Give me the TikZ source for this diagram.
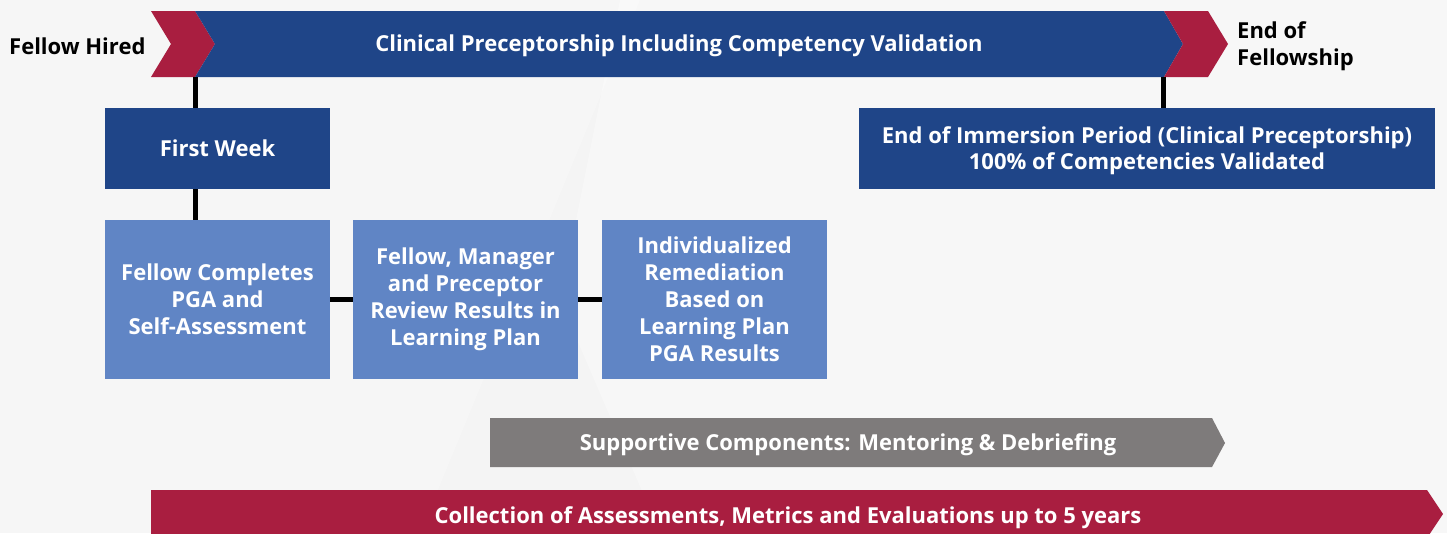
\documentclass[tikz,border=0pt]{standalone}
\usepackage{fontspec}
\setmainfont{Open Sans}
\definecolor{navy}{HTML}{1F4588}
\definecolor{crimson}{HTML}{A91E40}
\definecolor{lblue}{HTML}{6085C5}
\definecolor{gbar}{HTML}{7E7B7B}
\definecolor{bgc}{HTML}{F4F4F4}
\begin{document}
\begin{tikzpicture}[x=1pt,y=-1pt,
  lbl/.style={font=\fontsize{22}{27}\selectfont\bfseries, text=white, align=center, inner sep=0pt},
  blk/.style={font=\fontsize{22}{27}\selectfont\bfseries, text=black, align=left, inner sep=0pt},
  darkbox/.style={lbl, fill=navy, minimum height=81pt},
  lightbox/.style={lbl, fill=lblue, minimum width=225pt, minimum height=159pt},
  conn/.style={line width=5pt, draw=black}]
\fill[bgc] (0,0) rectangle (1447,533);
\fill[white, opacity=0.3] (620,0) -- (1447,0) -- (1447,533) -- (660,533) -- (560,300) -- cycle;
\fill[white, opacity=0.25] (0,0) -- (640,0) -- (420,533) -- (0,533) -- cycle;
\useasboundingbox (0,0) rectangle (1447,533);
% top bar
\fill[crimson] (151,11)--(195,11)--(215,44)--(195,77)--(151,77)--(171,44)--cycle;
\fill[navy] (195,11)--(1164,11)--(1183,44)--(1164,77)--(195,77)--(215,44)--cycle;
\fill[crimson] (1164,11)--(1208,11)--(1228,44)--(1208,77)--(1164,77)--(1183,44)--cycle;
\node[lbl] (clin) at (679,46) {Clinical Preceptorship Including Competency Validation};
\node[blk, anchor=west] (hired) at (9,46) {Fellow Hired};
\node[blk, anchor=west] (endf) at (1237,46) {End of\\Fellowship};
\coordinate (barL) at (195,77);
\coordinate (barR) at (1163,77);
% boxes
\node[darkbox, minimum width=225pt] (fw) at (217.5,148.5) {First Week};
\node[darkbox, minimum width=576pt] (eoi) at (1147,148.5) {};
\node[lbl, font=\fontsize{22}{26}\selectfont\bfseries] (eoitext) at (1147,150.5) {End of Immersion Period (Clinical Preceptorship)\\100\% of Competencies Validated};
\node[lightbox] (pga) at (217.5,299.5) {Fellow Completes\\PGA and\\Self-Assessment};
\node[lightbox] (rev) at (465.5,299.5) {Fellow, Manager\\and Preceptor\\Review Results in\\Learning Plan};
\node[lightbox] (rem) at (714.5,299.5) {Individualized\\Remediation\\Based on\\Learning Plan\\PGA Results};
% connectors
\draw[conn] (barL) -- (fw.north -| barL);
\draw[conn] (fw.south -| barL) -- (pga.north -| barL);
\draw[conn] (barR) -- (eoi.north -| barR);
\draw[conn] (pga.east) -- (rev.west);
\draw[conn] (rev.east) -- (rem.west);
% lower arrows
\fill[gbar] (490,418)--(1212,418)--(1225,443)--(1212,467)--(490,467)--cycle;
\node[lbl] (supp) at (848,445) {Supportive Components: Mentoring \& Debriefing};
\fill[crimson] (151,490)--(1427,490)--(1443,514)--(1427,538)--(151,538)--cycle;
\node[lbl] (coll) at (788,518) {Collection of Assessments, Metrics and Evaluations up to 5 years};
\end{tikzpicture}
\end{document}
